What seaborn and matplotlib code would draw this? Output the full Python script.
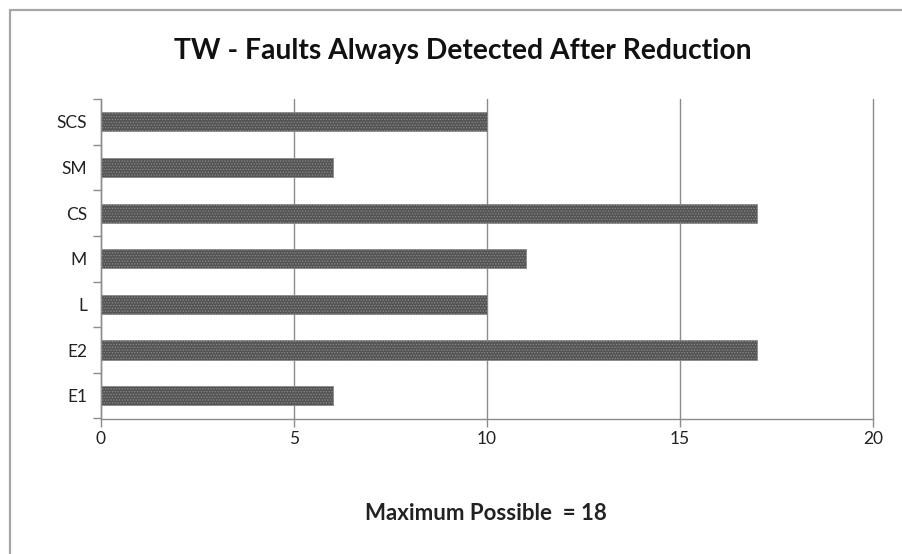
import matplotlib
matplotlib.use("Agg")
import matplotlib.pyplot as plt
from matplotlib.patches import Rectangle
import numpy as np
import pandas as pd
import seaborn as sns

# Faults always detected after reduction, per technique (top to bottom)
categories = ["SCS", "SM", "CS", "M", "L", "E2", "E1"]
faults = [10, 6, 17, 11, 10, 17, 6]
x_ticks = [0, 5, 10, 15, 20]
title = "TW - Faults Always Detected After Reduction"
x_label = "Maximum Possible  = 18"

sns.set_theme(style="white")
plt.rcParams["font.family"] = ["Lato", "DejaVu Sans"]
plt.rcParams["hatch.linewidth"] = 0.6

W, H = 903, 554
fig = plt.figure(figsize=(W / 100, H / 100), dpi=100)
fig.patch.set_facecolor("white")

# plot area in pixel terms
left, right, top, bottom = 101, 873, 99, 418.5
ax = fig.add_axes([left / W, 1 - bottom / H, (right - left) / W, (bottom - top) / H])

df = pd.DataFrame({"category": categories, "faults": faults})
sns.barplot(data=df, x="faults", y="category", order=categories, orient="h",
            color="#545454", saturation=1, width=0.42, ax=ax, zorder=3)
for bar in ax.patches:
    bar.set_hatch("......")
    bar.set_edgecolor("#8a8a8a")
    bar.set_linewidth(0.6)

grid_col = "#8c8c8c"
tick_font = 12.5
ax.set_xlim(x_ticks[0], x_ticks[-1])
ax.set_xticks(x_ticks)
ax.set_xticklabels([str(t) for t in x_ticks], fontsize=tick_font, color="#222222")
ax.xaxis.grid(True, color=grid_col, linewidth=1.0, zorder=0)
for gl in ax.get_xgridlines():
    gl.set_clip_on(False)
ax.yaxis.grid(False)
ax.tick_params(axis="x", direction="out", length=6, width=1.0, color=grid_col,
               pad=3, bottom=True)

ax.set_ylim(len(categories) - 0.5, -0.5)
ax.set_yticks(range(len(categories)))
ax.set_yticklabels(categories, fontsize=tick_font, color="#222222")
ax.set_yticks(np.arange(-0.5, len(categories), 1.0), minor=True)
ax.tick_params(axis="y", which="major", length=0, pad=10, left=True)
ax.tick_params(axis="y", which="minor", direction="out", length=6, width=1.0,
               color=grid_col, left=True)
ax.set_ylabel("")
ax.set_xlabel("")

for side in ("top", "right"):
    ax.spines[side].set_visible(False)
for side in ("left", "bottom"):
    ax.spines[side].set_color(grid_col)
    ax.spines[side].set_linewidth(1.0)
    ax.spines[side].set_zorder(4)

fig.text(463 / W, 1 - 51 / H, title, ha="center", va="center",
         fontsize=20.3, fontweight="bold", color="#111111")
fig.text(486 / W, 1 - 514 / H, x_label, ha="center", va="center",
         fontsize=16, fontweight="bold", color="#222222")

# chart frame
fig.patches.append(Rectangle((10 / W, -0.1), 1.2, 1.1 - 10 / H,
                             transform=fig.transFigure, fill=False,
                             edgecolor="#a6a6a6", linewidth=1.6))

fig.savefig("out.png", dpi=100, facecolor="white")
